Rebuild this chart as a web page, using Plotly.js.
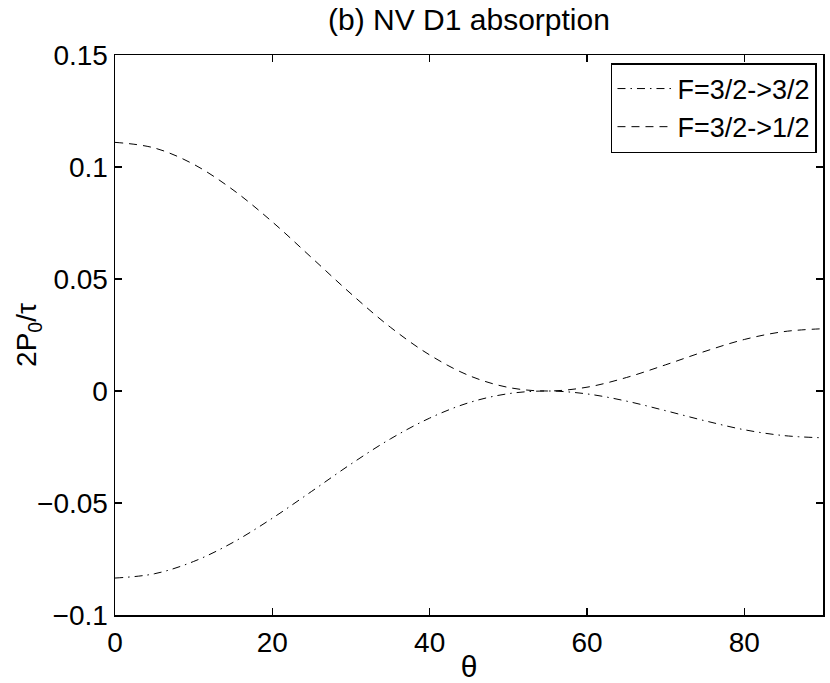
<!DOCTYPE html>
<html><head><meta charset="utf-8">
<script src="https://cdn.plot.ly/plotly-3.0.1.min.js"></script>
<style>html,body{margin:0;padding:0;background:#fff}</style>
</head><body><div id="chart" style="width:830px;height:683px"></div>
<script>
const theta = [0,5,10,15,20,25,30,35,40,45,50,55,60,65,70,75,80,85,90];
const absorb32to32 = [-0.0835,-0.0816,-0.0761,-0.0676,-0.0568,-0.0448,-0.0326,-0.0214,-0.0121,-0.0052,-0.0012,0.0000,-0.0013,-0.0045,-0.0088,-0.0133,-0.0173,-0.0199,-0.0209];
const absorb32to12 = [0.1110,0.1085,0.1012,0.0898,0.0755,0.0595,0.0434,0.0285,0.0161,0.0069,0.0016,0.0000,0.0017,0.0060,0.0117,0.0177,0.0230,0.0265,0.0278];
const seriesNames = ["F=3/2->3/2","F=3/2->1/2"];
const xTickVals = [0,20,40,60,80];
const yTickVals = [-0.1,-0.05,0,0.05,0.1,0.15];
const yTickText = ["\u22120.1","\u22120.05","0","0.05","0.1","0.15"];

const FONT = "Liberation Sans, Arial, Helvetica, sans-serif";
const traces = [
  {x: theta, y: absorb32to32, name: seriesNames[0], mode: "lines",
   line: {color: "#000", width: 1, dash: "8px,5px,1.5px,5px", shape: "spline"}},
  {x: theta, y: absorb32to12, name: seriesNames[1], mode: "lines",
   line: {color: "#000", width: 1, dash: "8px,6px", shape: "spline"}}
];
const axisCommon = {
  showline: true, linecolor: "#000", linewidth: 1.5, mirror: "ticks",
  ticks: "inside", ticklen: 7, tickwidth: 1.5, tickcolor: "#000",
  showgrid: false, zeroline: false, tickfont: {family: FONT, size: 28, color: "#000"}
};
const layout = {
  width: 830, height: 683,
  margin: {l: 115, r: 7, t: 55, b: 68},
  paper_bgcolor: "#fff", plot_bgcolor: "#fff",
  font: {family: FONT, color: "#000"},
  title: {text: "(b) NV D1 absorption", font: {family: FONT, size: 30, color: "#000"},
          x: 0.5, xref: "paper", xanchor: "center", y: 0.972, yref: "container", yanchor: "middle"},
  xaxis: Object.assign({}, axisCommon, {range: [0, 90], tickvals: xTickVals, ticklabelstandoff: 2,
          title: {text: "\u03b8", font: {family: FONT, size: 30, color: "#000"}, standoff: 0}}),
  yaxis: Object.assign({}, axisCommon, {range: [-0.1, 0.15], tickvals: yTickVals, ticktext: yTickText}),
  showlegend: true,
  legend: {x: 0.9915, y: 0.9857, xanchor: "right", yanchor: "top", bgcolor: "#fff", itemwidth: 55,
           bordercolor: "#000", borderwidth: 1.5, font: {family: FONT, size: 27, color: "#000"}},
  annotations: [{text: "2P<sub>0</sub>/\u03c4", xref: "paper", yref: "paper", x: -0.123, y: 0.5,
                 xanchor: "center", yanchor: "middle", textangle: -90, showarrow: false,
                 font: {family: FONT, size: 28, color: "#000"}}]
};
Plotly.newPlot("chart", traces, layout, {displayModeBar: false, staticPlot: true});
</script></body></html>
